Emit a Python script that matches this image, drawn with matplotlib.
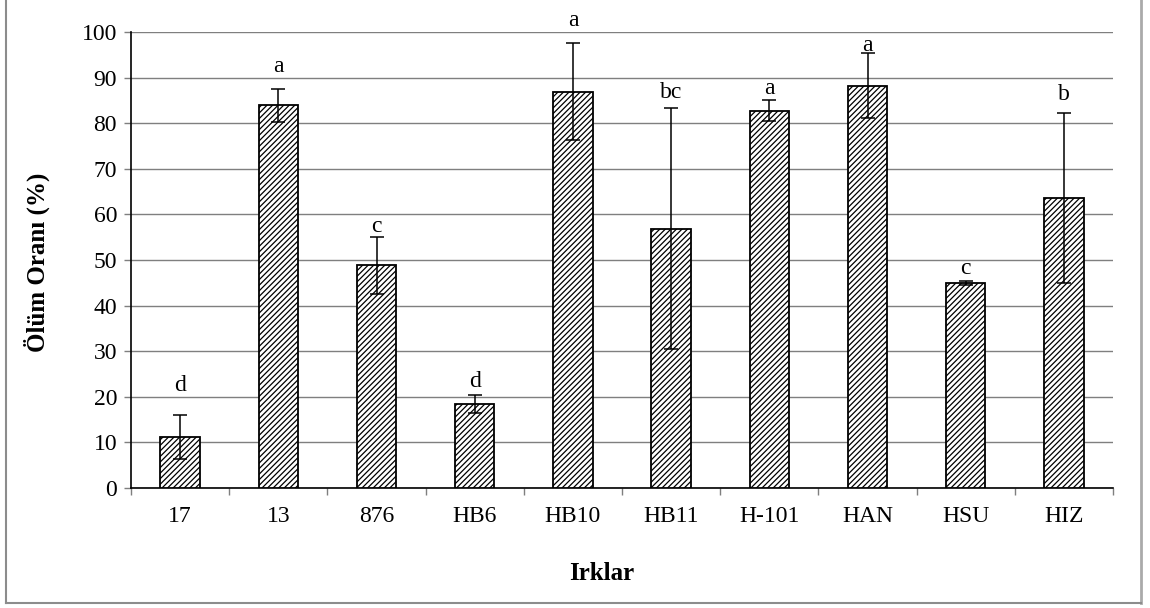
import numpy as np
import matplotlib
matplotlib.use('Agg')
import matplotlib.pyplot as plt
from matplotlib.lines import Line2D

# Irk bazinda olum orani (%), standart hata ve harf gruplari
irklar = ['17', '13', '876', 'HB6', 'HB10', 'HB11', 'H-101', 'HAN', 'HSU', 'HIZ']
olum_orani = [11.2, 83.9, 48.8, 18.4, 86.9, 56.9, 82.7, 88.2, 44.9, 63.6]
hata = [4.8, 3.7, 6.2, 1.9, 10.6, 26.5, 2.3, 7.1, 0.4, 18.6]
harfler = ['d', 'a', 'c', 'd', 'a', 'bc', 'a', 'a', 'c', 'b']
harf_y = [21.3, 91.3, 56.2, 22.1, 101.3, 85.6, 86.3, 95.9, 46.9, 85.1]

plt.rcParams['font.family'] = ['Liberation Serif', 'DejaVu Serif']
plt.rcParams['hatch.linewidth'] = 0.9
plt.rcParams['hatch.color'] = '#505050'

W, H = 1150, 608
fig = plt.figure(figsize=(W / 100, H / 100), dpi=100)
ax = fig.add_axes([131 / W, 1 - 488 / H, (1113 - 131) / W, (488 - 32) / H])

x = np.arange(len(irklar))
ax.bar(x, olum_orani, width=0.40, color='white', edgecolor='black',
       linewidth=1.3, hatch='//////', zorder=3)
ax.errorbar(x, olum_orani, yerr=hata, fmt='none', ecolor='black',
            elinewidth=1.1, capsize=5, capthick=1.1, zorder=4)

for xi, h, yy in zip(x, harfler, harf_y):
    ax.text(xi, yy, h, ha='center', va='baseline', fontsize=17, zorder=5)

ax.set_xlim(-0.5, len(irklar) - 0.5)
ax.set_ylim(0, 100)
ax.set_yticks(np.arange(0, 101, 10))
ax.yaxis.grid(True, color='#7f7f7f', linewidth=1.0, zorder=0)
ax.set_axisbelow(True)

ax.set_xticks(x)
ax.set_xticklabels(irklar, fontsize=17)
ax.set_xticks(np.arange(-0.5, len(irklar)), minor=True)
ax.tick_params(axis='x', which='major', length=0, pad=13)
ax.tick_params(axis='x', which='minor', length=5, color='#7f7f7f', width=1)
ax.tick_params(axis='y', length=5, color='#7f7f7f', width=1, labelsize=17, pad=5)

for s in ['top', 'right']:
    ax.spines[s].set_visible(False)
ax.spines['left'].set_color('black')
ax.spines['left'].set_linewidth(1.2)
ax.spines['bottom'].set_color('black')
ax.spines['bottom'].set_linewidth(1.2)

fig.text(37 / W, 1 - 262 / H, 'Ölüm Oranı (%)', rotation=90, ha='center',
         va='center', fontsize=18, fontweight='bold')
fig.text(602 / W, 1 - 573 / H, 'Irklar', ha='center', va='center',
         fontsize=18, fontweight='bold')

# cerceve
frame_c = '#8c8c8c'
fig.add_artist(Line2D([6 / W, 6 / W], [1 - 603 / H, 1.0], color=frame_c, lw=1.5, transform=fig.transFigure))
fig.add_artist(Line2D([1141 / W, 1141 / W], [1 - 603 / H, 1.0], color='#aaaaaa', lw=2, transform=fig.transFigure))
fig.add_artist(Line2D([6 / W, 1141 / W], [1 - 603 / H, 1 - 603 / H], color=frame_c, lw=1.5, transform=fig.transFigure))

fig.savefig('out.png', dpi=100)
